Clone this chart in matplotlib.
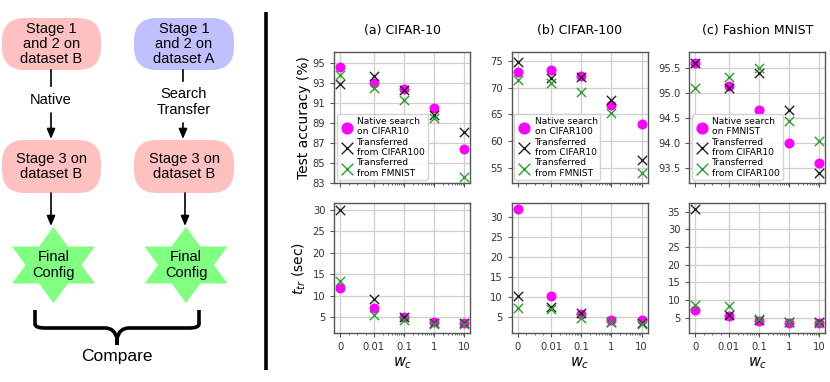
import numpy as np
import matplotlib
matplotlib.use("Agg")
import matplotlib.pyplot as plt
from matplotlib.patches import FancyBboxPatch, Polygon, PathPatch
from matplotlib.path import Path

# ---------------- data ----------------
wc = [0, 0.01, 0.1, 1, 10]
wc_labels = ["0", "0.01", "0.1", "1", "10"]

titles = ["(a) CIFAR-10", "(b) CIFAR-100", "(c) Fashion MNIST"]

acc_native = [
    [94.66, 93.06, 92.4, 90.55, 86.4],
    [73.0, 73.2, 72.1, 66.8, 63.2],
    [95.59, 95.13, 94.65, 93.99, 93.59],
]
acc_trans1 = [
    [92.9, 93.75, 92.35, 89.85, 88.1],
    [74.8, 71.8, 72.0, 67.6, 56.5],
    [95.6, 95.09, 95.39, 94.65, 93.39],
]
acc_trans2 = [
    [93.8, 92.5, 91.3, 89.5, 83.6],
    [71.5, 70.9, 69.2, 65.3, 54.0],
    [95.09, 95.32, 95.49, 94.44, 94.04],
]

time_native = [
    [11.9, 7.1, 5.1, 4.0, 3.8],
    [32.2, 10.3, 5.6, 4.1, 4.1],
    [7.2, 5.4, 4.2, 3.6, 3.6],
]
time_trans1 = [
    [30.0, 9.3, 5.2, 3.6, 3.6],
    [10.2, 7.4, 6.0, 3.7, 3.5],
    [35.7, 5.9, 4.4, 3.7, 3.7],
]
time_trans2 = [
    [13.4, 5.6, 4.3, 3.4, 3.4],
    [7.1, 6.9, 4.6, 3.6, 3.3],
    [8.7, 8.2, 4.7, 3.8, 3.6],
]

legend_labels = [
    ["Native search\non CIFAR10", "Transferred\nfrom CIFAR100", "Transferred\nfrom FMNIST"],
    ["Native search\non CIFAR100", "Transferred\nfrom CIFAR10", "Transferred\nfrom FMNIST"],
    ["Native search\non FMNIST", "Transferred\nfrom CIFAR10", "Transferred\nfrom CIFAR100"],
]

acc_ylim = [(83, 96.1), (52.1, 76.6), (93.19, 95.81)]
acc_yticks = [
    [83, 85, 87, 89, 91, 93, 95],
    [55, 60, 65, 70, 75],
    [93.5, 94.0, 94.5, 95.0, 95.5],
]
acc_yticklabels = [
    ["83", "85", "87", "89", "91", "93", "95"],
    ["55", "60", "65", "70", "75"],
    ["93.5", "94.0", "94.5", "95.0", "95.5"],
]
time_ylim = [(1.27, 31.7), (0.82, 33.7), (0.58, 37.5)]
time_yticks = [
    [5, 10, 15, 20, 25, 30],
    [5, 10, 15, 20, 25, 30],
    [5, 10, 15, 20, 25, 30, 35],
]

# ---------------- figure ----------------
W, H = 830, 382
fig = plt.figure(figsize=(W / 100, H / 100), dpi=100)

c_native = "#ff00ff"
c_t1 = "#222222"
c_t2 = "#2ca02c"
spine_col = "#555555"
tick_col = "#333333"

col_left = [334.3, 511.7, 689.3]
col_w = 136.0
row_top = [52.3, 202.7]
row_h = 130.7

minor_ticks = [0.0025, 0.005, 0.0075] + [m * d for d in (0.01, 0.1, 1) for m in range(2, 10)]


def make_ax(px, py_top, w, h):
    return fig.add_axes([px / W, 1 - (py_top + h) / H, w / W, h / H])


def style(ax):
    ax.set_xscale("symlog", linthresh=0.01, linscale=1)
    ax.set_xticks(wc)
    ax.set_xticks(minor_ticks, minor=True)
    ax.grid(True, which="major", color="#cfcfcf", linewidth=0.9)
    ax.set_axisbelow(True)
    for s in ax.spines.values():
        s.set_color(spine_col)
        s.set_linewidth(1.0)
    ax.tick_params(axis="both", which="both", colors=spine_col, labelcolor=tick_col,
                   labelsize=7.2, length=3, width=0.8)
    ax.tick_params(axis="x", which="minor", length=1.5, width=0.6)
    ax.margins(x=0.05)


for i in range(3):
    ax = make_ax(col_left[i], row_top[0], col_w, row_h)
    style(ax)
    ax.scatter(wc, acc_native[i], s=38, color=c_native, marker="o", zorder=3,
               label=legend_labels[i][0])
    ax.scatter(wc, acc_trans1[i], s=45, color=c_t1, marker="x", linewidths=1.0, zorder=4,
               label=legend_labels[i][1])
    ax.scatter(wc, acc_trans2[i], s=45, color=c_t2, marker="x", linewidths=1.0, zorder=4,
               label=legend_labels[i][2])
    ax.set_ylim(*acc_ylim[i])
    ax.set_yticks(acc_yticks[i])
    ax.set_yticklabels(acc_yticklabels[i])
    ax.set_xticklabels([])
    ax.set_title(titles[i], fontsize=9, pad=13)
    leg = ax.legend(loc="lower left", fontsize=6.6, borderaxespad=0.3, handletextpad=0.4,
                    labelspacing=0.12, borderpad=0.3, handlelength=1.5, framealpha=0.85,
                    edgecolor="#cccccc", fancybox=True, markerscale=1.25)
    if i == 0:
        ax.set_ylabel("Test accuracy (%)", fontsize=10, labelpad=1)

    ax2 = make_ax(col_left[i], row_top[1], col_w, row_h)
    style(ax2)
    ax2.scatter(wc, time_native[i], s=38, color=c_native, marker="o", zorder=3)
    ax2.scatter(wc, time_trans1[i], s=45, color=c_t1, marker="x", linewidths=1.0, zorder=4)
    ax2.scatter(wc, time_trans2[i], s=45, color=c_t2, marker="x", linewidths=1.0, zorder=4)
    ax2.set_ylim(*time_ylim[i])
    ax2.set_yticks(time_yticks[i])
    ax2.set_xticklabels(wc_labels)
    ax2.set_xlabel("$w_c$", fontsize=10.5, labelpad=2)
    if i == 0:
        ax2.set_ylabel("$t_{tr}$ (sec)", fontsize=10, labelpad=3)

# ---------------- left diagram ----------------
dax = fig.add_axes([0, 0, 1, 1], zorder=-1)
dax.set_xlim(0, W)
dax.set_ylim(H, 0)
dax.axis("off")

font = dict(family=["Liberation Sans", "DejaVu Sans"], ha="center", va="center",
            fontsize=10.5, linespacing=1.1, color="black")

pink = "#ffc0c0"
blue = "#c0c0ff"
green = "#80ff80"


def box(x0, y0, x1, y1, color, text):
    p = FancyBboxPatch((x0, y0), x1 - x0, y1 - y0,
                       boxstyle="round,pad=0,rounding_size=23",
                       facecolor=color, edgecolor="none")
    dax.add_patch(p)
    dax.text((x0 + x1) / 2, (y0 + y1) / 2, text, **font)


box(2, 18, 101, 70, pink, "Stage 1\nand 2 on\ndataset B")
box(134, 18, 234, 70, blue, "Stage 1\nand 2 on\ndataset A")
box(2, 140, 101, 193, pink, "Stage 3 on\ndataset B")
box(134, 140, 234, 193, pink, "Stage 3 on\ndataset B")


def star(cx, cy):
    hw, top, mid = 41.5, 38, 18.5
    t1 = [(cx, cy - top), (cx - hw, cy + mid), (cx + hw, cy + mid)]
    t2 = [(cx, cy + top), (cx - hw, cy - mid), (cx + hw, cy - mid)]
    for t in (t1, t2):
        dax.add_patch(Polygon(t, closed=True, facecolor=green, edgecolor="none"))
    dax.text(cx, cy, "Final\nConfig", **font)


star(53.5, 265)
star(186, 265)


def arrow(x, y0, y1):
    dax.annotate("", xy=(x, y1), xytext=(x, y0),
                 arrowprops=dict(arrowstyle="-|>,head_length=0.6,head_width=0.25",
                                 color="black", lw=1.2, shrinkA=0, shrinkB=0))


# left column
dax.plot([51, 51], [70, 86], color="black", lw=1.2)
dax.text(51, 100, "Native", **font)
arrow(51, 113, 139)
arrow(51, 193, 226)
# right column
dax.plot([183, 183], [70, 81], color="black", lw=1.2)
dax.text(184, 102, "Search\nTransfer", **font)
arrow(183, 123, 139)
arrow(185, 193, 226)

# brace
xl, xr, ytop, ymid, ytip = 35, 199, 310, 328, 345
xc = (xl + xr) / 2
verts = [
    (xl, ytop), (xl, ymid - 4), (xl, ymid), (xl + 10, ymid),
    (xc - 12, ymid), (xc - 2, ymid), (xc, ytip - 6), (xc, ytip),
]
codes = [Path.MOVETO, Path.LINETO, Path.CURVE3, Path.CURVE3,
         Path.LINETO, Path.CURVE3, Path.CURVE3, Path.LINETO]
verts2 = [
    (xr, ytop), (xr, ymid - 4), (xr, ymid), (xr - 10, ymid),
    (xc + 12, ymid), (xc + 2, ymid), (xc, ytip - 6), (xc, ytip),
]
for v in (verts, verts2):
    dax.add_patch(PathPatch(Path(v, codes), facecolor="none", edgecolor="black",
                            lw=2.6, capstyle="butt", joinstyle="round"))
dax.text(xc, 357, "Compare", **{**font, "fontsize": 12.5})

# separator
dax.plot([265.7, 265.7], [12, 370], color="black", lw=2.6, solid_capstyle="butt")

fig.savefig("out.png", dpi=100)
